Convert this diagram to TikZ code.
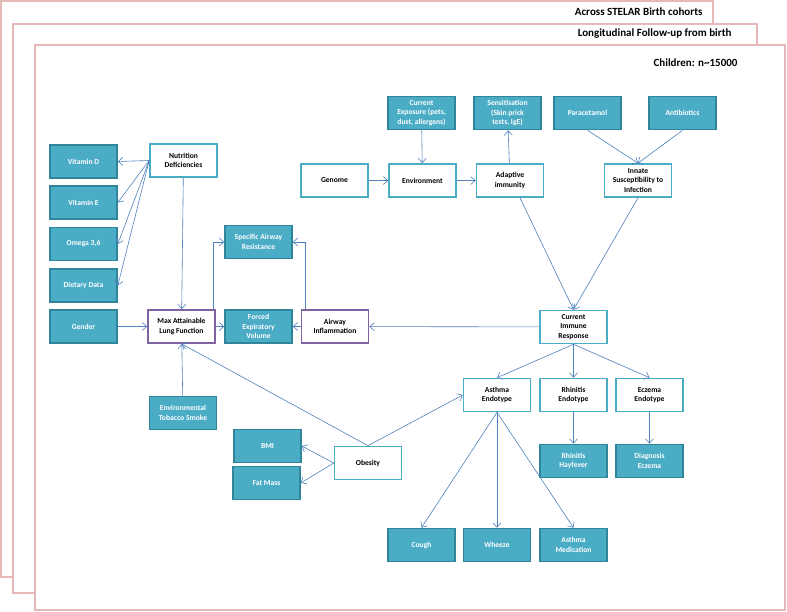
\documentclass[tikz,border=0pt]{standalone}
\usepackage{fontspec}
\setmainfont{Carlito}
\usepackage{tikz}
\usetikzlibrary{positioning, arrows.meta, calc}

\definecolor{framepink}{RGB}{230,185,184}
\definecolor{tealfill}{RGB}{75,172,198}
\definecolor{tealdark}{RGB}{49,133,155}
\definecolor{purpleline}{RGB}{128,100,162}
\definecolor{arrowblue}{RGB}{79,129,189}

\begin{document}
\begin{tikzpicture}[x=1pt, y=-1pt,
    frame/.style={draw=framepink, line width=1.5pt, fill=white},
    title/.style={font=\fontsize{11}{13}\selectfont\bfseries, anchor=east},
    block/.style={rectangle, minimum width=67pt, minimum height=33pt, inner sep=1pt, align=center, font=\fontsize{7.6}{9.3}\selectfont\bfseries, line width=1.6pt},
    measure/.style={block, fill=tealfill, draw=tealdark, text=white},
    factor/.style={block, fill=white, draw=tealfill},
    lung/.style={block, fill=white, draw=purpleline},
    arrow/.style={-{Straight Barb[length=4.5pt, width=8pt]}, draw=arrowblue, line width=0.6pt},
]
\useasboundingbox (0,0) rectangle (787,612);
\draw[frame] (1,1) rectangle (713,577);
\draw[frame] (13,24) rectangle (757,593);
\draw[frame] (35,45) rectangle (785,610);
\node[title] (cohorts) at (706,12) {Across STELAR Birth cohorts};
\node[title] (followup) at (735,34) {Longitudinal Follow-up from birth};
\node[title] (children) at (741,63) {Children: n\textasciitilde15000};

% left column
\node[measure] (vitd) at (83.5,161.5) {Vitamin D};
\node[measure] (vite) at (83.5,202.5) {Vitamin E};
\node[measure] (omega) at (83.5,244) {Omega 3,6};
\node[measure] (diet) at (83.5,285.5) {Dietary Data};
\node[measure] (gender) at (83.5,326.5) {Gender};
\node[factor] (nutri) at (183.5,160.5) {Nutrition\\Deficiencies};
\node[lung] (maxlung) at (181.5,326.5) {Max Attainable\\Lung Function};
\node[measure] (sar) at (258.5,242) {Specific Airway\\Resistance};
\node[measure] (fev) at (258.5,326.5) {Forced\\Expiratory\\Volume};
\node[lung] (airinf) at (335,326.5) {Airway\\Inflammation};
\node[measure] (ets) at (183,413) {Environmental\\Tobacco Smoke};
\node[measure] (bmi) at (267.5,446) {BMI};
\node[measure] (fatmass) at (266.5,483) {Fat Mass};
\node[factor] (obesity) at (368,463) {Obesity};

% top row
\node[factor] (genome) at (334.5,180.5) {Genome};
\node[factor] (env) at (422.5,180.5) {Environment};
\node[factor] (adapt) at (510,180.5) {Adaptive\\immunity};
\node[measure] (curexp) at (421.5,113) {Current\\Exposure (pets,\\dust, allergens)};
\node[measure] (sens) at (507.5,113) {Sensitisation\\(Skin prick\\tests, IgE)};
\node[measure] (para) at (587.5,113) {Paracetamol};
\node[measure] (anti) at (682.5,113) {Antibiotics};
\node[factor] (innate) at (638,180.5) {Innate\\Susceptibility to\\Infection};

% right side
\node[factor] (cir) at (573.5,327) {Current\\Immune\\Response};
\node[factor] (asthma) at (497,395) {Asthma\\Endotype};
\node[factor] (rhin) at (573.5,395) {Rhinitis\\Endotype};
\node[factor] (eczema) at (649.5,395) {Eczema\\Endotype};
\node[measure] (hayf) at (573.5,461) {Rhinitis\\Hayfever};
\node[measure] (diagecz) at (649.5,461) {Diagnosis\\Eczema};
\node[measure] (cough) at (421.5,545) {Cough};
\node[measure] (wheeze) at (497,545) {Wheeze};
\node[measure] (asmed) at (573.5,545) {Asthma\\Medication};

% arrows
\draw[arrow] (nutri.west) -- (vitd.east);
\draw[arrow] (nutri.west) -- (vite.east);
\draw[arrow] (nutri.west) -- (omega.east);
\draw[arrow] (nutri.west) -- (diet.east);
\draw[arrow] (nutri) -- (maxlung);
\draw[arrow] (gender) -- (maxlung);
\draw[arrow] (maxlung) -- (fev);
\draw[arrow] ($(maxlung.north east)+(-3,0)$) |- (sar.west);
\draw[arrow] (airinf) -- (fev);
\draw[arrow] ($(airinf.north west)+(5,0)$) |- (sar.east);
\draw[arrow] (cir) -- (airinf);
\draw[arrow] (ets) -- (maxlung);
\draw[arrow] (obesity.north) -- (maxlung.south);
\draw[arrow] (obesity.north) -- (asthma.west);
\draw[arrow] (obesity.west) -- (bmi.east);
\draw[arrow] (obesity.west) -- (fatmass.east);

\draw[arrow] (genome) -- (env);
\draw[arrow] (env) -- (adapt);
\draw[arrow] (curexp) -- (env);
\draw[arrow] (adapt) -- (sens);
\draw[arrow] (para.south) -- (innate.north);
\draw[arrow] (anti.south) -- (innate.north);
\draw[arrow] ($(adapt.south)+(10,0)$) -- (cir.north);
\draw[arrow] (innate.south) -- (cir.north);

\draw[arrow] (cir.south) -- (asthma.north);
\draw[arrow] (cir.south) -- (rhin.north);
\draw[arrow] (cir.south) -- (eczema.north);
\draw[arrow] (rhin) -- (hayf);
\draw[arrow] (eczema) -- (diagecz);
\draw[arrow] (asthma.south) -- (cough.north);
\draw[arrow] (asthma.south) -- (wheeze.north);
\draw[arrow] (asthma.south) -- (asmed.north);
\end{tikzpicture}
\end{document}
